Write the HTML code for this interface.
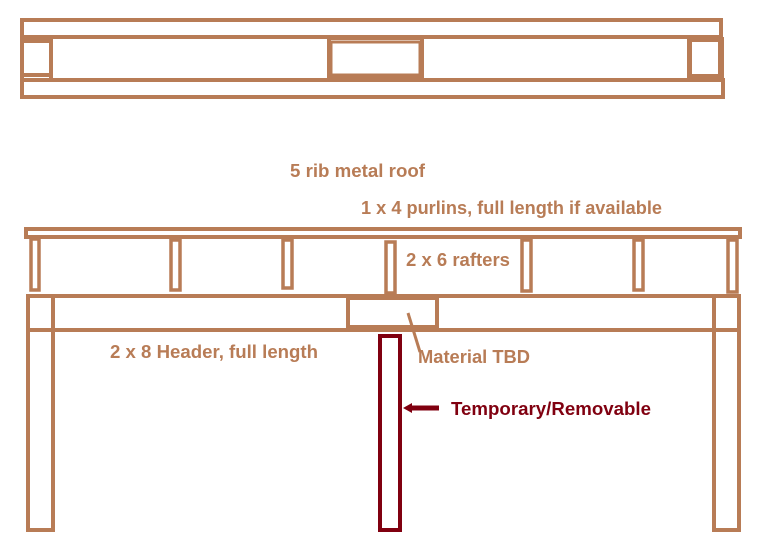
<!DOCTYPE html>
<html><head><style>
body{margin:0;background:#fff;width:763px;height:534px;overflow:hidden}
svg{position:absolute;left:0;top:0}
text{font-family:"Liberation Sans",sans-serif;font-weight:bold;font-size:18px;fill:#B87C56}
</style></head><body>
<svg width="763" height="534" viewBox="0 0 763 534">
<g fill="none" stroke="#B87C56" stroke-width="4">
<rect x="22" y="20" width="699" height="17"/>
<rect x="22" y="80" width="701" height="17"/>
<line x1="22" y1="37" x2="22" y2="80"/>
<line x1="722" y1="37" x2="722" y2="80"/>
<rect x="22" y="41" width="29" height="34"/>
<line x1="51" y1="37" x2="51" y2="80"/>
<rect x="329" y="38" width="93" height="40"/>
<rect x="331" y="42" width="89" height="33" stroke-width="3"/>
<rect x="690" y="40" width="30" height="36"/>
<line x1="689" y1="37" x2="689" y2="80"/>
<rect x="26" y="229" width="714" height="8"/>
<rect x="31" y="239" width="8" height="51" stroke-width="3.5"/>
<rect x="171" y="240" width="9" height="50" stroke-width="3.5"/>
<rect x="283" y="240" width="9" height="48" stroke-width="3.5"/>
<rect x="386" y="242" width="9" height="51" stroke-width="3.5"/>
<rect x="522" y="240" width="9" height="51" stroke-width="3.5"/>
<rect x="634" y="240" width="9" height="50" stroke-width="3.5"/>
<rect x="728" y="240" width="9" height="52" stroke-width="3.5"/>
<rect x="28" y="296" width="711" height="34"/>
<rect x="28" y="296" width="25" height="234"/>
<rect x="714" y="296" width="25" height="234"/>
<rect x="348" y="298" width="89" height="29"/>
<line x1="408" y1="313" x2="420" y2="352" stroke-width="3"/>
</g>
<rect x="380" y="336" width="20" height="194" fill="none" stroke="#800010" stroke-width="4"/>
<line x1="410" y1="408" x2="439" y2="408" stroke="#800010" stroke-width="5"/>
<polygon points="403,408 412,403 412,413" fill="#800010"/>
<text x="290" y="177" textLength="135" lengthAdjust="spacingAndGlyphs">5 rib metal roof</text>
<text x="361" y="214" textLength="301" lengthAdjust="spacingAndGlyphs">1 x 4 purlins, full length if available</text>
<text x="406" y="266" textLength="104" lengthAdjust="spacingAndGlyphs">2 x 6 rafters</text>
<text x="110" y="358" textLength="208" lengthAdjust="spacingAndGlyphs">2 x 8 Header, full length</text>
<text x="418" y="363" textLength="112" lengthAdjust="spacingAndGlyphs">Material TBD</text>
<text x="451" y="415" textLength="200" lengthAdjust="spacingAndGlyphs" style="fill:#800010">Temporary/Removable</text>
</svg>
</body></html>
